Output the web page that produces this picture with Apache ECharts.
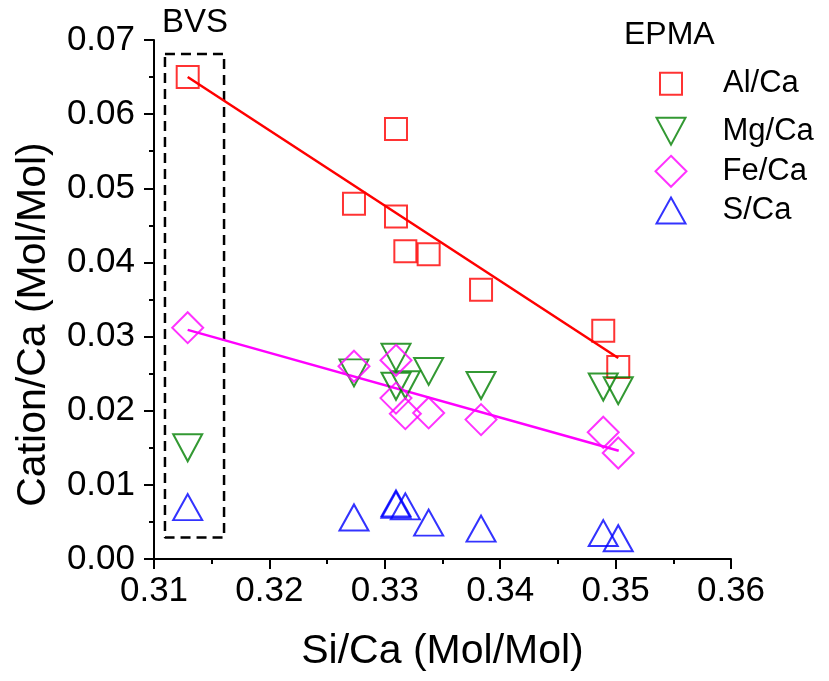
<!DOCTYPE html>
<html>
<head>
<meta charset="utf-8">
<script src="https://cdn.jsdelivr.net/npm/echarts@6/dist/echarts.min.js"></script>
<style>html,body{margin:0;padding:0;background:#fff}#c{width:829px;height:681px}</style>
</head>
<body>
<div id="c"></div>
<script>
// Si/Ca values (x) shared by all EPMA series
var siCa = [0.31292, 0.32733, 0.33097, 0.33097, 0.33178, 0.3338, 0.33834, 0.34893, 0.35023];
var alCa = [0.0650, 0.0479, 0.0580, 0.0462, 0.0415, 0.0411, 0.0363, 0.0308, 0.0259];
var mgCa = [0.0150, 0.0251, 0.0272, 0.0233, 0.0235, 0.0253, 0.0234, 0.0232, 0.0227];
var feCa = [0.0312, 0.0260, 0.0268, 0.0217, 0.0196, 0.0197, 0.0188, 0.0171, 0.0143];
var sCa  = [0.0070, 0.0056, 0.0075, 0.0073, 0.0071, 0.0049, 0.0041, 0.0035, 0.0028];
// linear fit end points
var alFitX = [0.31292, 0.35023];
var alFitY = [0.0650, 0.0271];
var feFitX = [0.31292, 0.35027];
var feFitY = [0.0309, 0.0146];
// BVS dashed box corners
var bvsX = [0.31095, 0.31607];
var bvsY = [0.0029, 0.0681];
// axis ticks
var xTicks = [0.31, 0.32, 0.33, 0.34, 0.35, 0.36];
var yTicks = [0.00, 0.01, 0.02, 0.03, 0.04, 0.05, 0.06, 0.07];

var FONT = 'Liberation Sans';
function pairs(xs, ys) { return xs.map(function (x, i) { return [x, ys[i]]; }); }
var bvsBox = [[bvsX[0], bvsY[1]], [bvsX[1], bvsY[1]], [bvsX[1], bvsY[0]], [bvsX[0], bvsY[0]], [bvsX[0], bvsY[1]]];
var DOWN_TRI = 'path://M0,0L29,0L14.5,27Z';

function scat(name, ys, symbol, color, size, rot) {
  return {
    name: name, type: 'scatter', data: pairs(siCa, ys), symbol: symbol,
    symbolSize: size, symbolRotate: rot || 0, z: 3,
    itemStyle: { color: 'rgba(0,0,0,0)', borderColor: color, borderWidth: 2 },
    emphasis: { disabled: true }
  };
}
function fitLine(xs, ys, color) {
  return {
    type: 'line', data: pairs(xs, ys), showSymbol: false, symbol: 'none', z: 2,
    lineStyle: { color: color, width: 2.5 }, emphasis: { disabled: true }, silent: true
  };
}
var axisCommon = {
  axisLine: { show: true, onZero: false, lineStyle: { color: '#000', width: 2 } },
  axisTick: { show: true, inside: false, length: 10, lineStyle: { color: '#000', width: 2 } },
  minorTick: { show: true, splitNumber: 2, length: 5, lineStyle: { color: '#000', width: 2 } },
  splitLine: { show: false }
};
function legendItem(name, icon, color, w, h, rowY, pad) {
  var lh = 30;
  return {
    data: [{ name: name, icon: icon }],
    orient: 'vertical', selectedMode: false, padding: 0,
    left: 670 - w / 2, top: rowY - Math.max(h, lh) / 2,
    itemWidth: w, itemHeight: h, symbolRotate: 0,
    itemStyle: { color: 'rgba(0,0,0,0)', borderColor: color, borderWidth: 2 },
    textStyle: { fontFamily: FONT, fontSize: 31, color: '#000', lineHeight: lh, padding: [0, 0, 0, pad] }
  };
}

var chart = echarts.init(document.getElementById('c'), null, { renderer: 'canvas' });
chart.setOption({
  animation: false,
  backgroundColor: '#fff',
  grid: { left: 154, right: 98, top: 40, bottom: 122, containLabel: false },
  xAxis: Object.assign({
    type: 'value', min: xTicks[0], max: xTicks[xTicks.length - 1], interval: 0.01,
    name: 'Si/Ca (Mol/Mol)', nameLocation: 'middle', nameGap: 72,
    nameTextStyle: { fontFamily: FONT, fontSize: 41, color: '#000' },
    axisLabel: { fontFamily: FONT, fontSize: 35, color: '#000', margin: 15,
      formatter: function (v) { return v.toFixed(2); } }
  }, axisCommon),
  yAxis: Object.assign({
    type: 'value', min: yTicks[0], max: yTicks[yTicks.length - 1], interval: 0.01,
    name: 'Cation/Ca (Mol/Mol)', nameLocation: 'middle', nameGap: 100,
    nameTextStyle: { fontFamily: FONT, fontSize: 41, color: '#000', padding: [0, 50, 0, 0] },
    axisLabel: { fontFamily: FONT, fontSize: 35, color: '#000', margin: 19,
      formatter: function (v) { return v.toFixed(2); } }
  }, axisCommon),
  legend: [
    legendItem('Al/Ca', 'rect', '#ff0000', 22, 22, 83.3, 36),
    legendItem('Mg/Ca', DOWN_TRI, '#008000', 29, 27, 130.7, 32),
    legendItem('Fe/Ca', 'diamond', '#ff00ff', 31, 31, 170.3, 31),
    legendItem('S/Ca', 'triangle', '#0000ff', 29, 26, 210, 32)
  ],
  graphic: [
    { type: 'text', left: 162, top: 6, style: { text: 'BVS', font: '33px "Liberation Sans"', fill: '#000' } },
    { type: 'text', left: 624, top: 19, style: { text: 'EPMA', font: '32px "Liberation Sans"', fill: '#000' } }
  ],
  series: [
    {
      type: 'line', data: bvsBox, showSymbol: false, symbol: 'none', z: 1, silent: true,
      lineStyle: { color: '#000', width: 2.5, type: [10, 6] }
    },
    fitLine(alFitX, alFitY, '#ff0000'),
    fitLine(feFitX, feFitY, '#ff00ff'),
    scat('Al/Ca', alCa, 'rect', '#ff0000', [22, 22]),
    scat('Mg/Ca', mgCa, 'triangle', '#008000', [29, 27], 180),
    scat('Fe/Ca', feCa, 'diamond', '#ff00ff', [31, 31]),
    scat('S/Ca', sCa, 'triangle', '#0000ff', [29, 26])
  ]
});
</script>
</body>
</html>
